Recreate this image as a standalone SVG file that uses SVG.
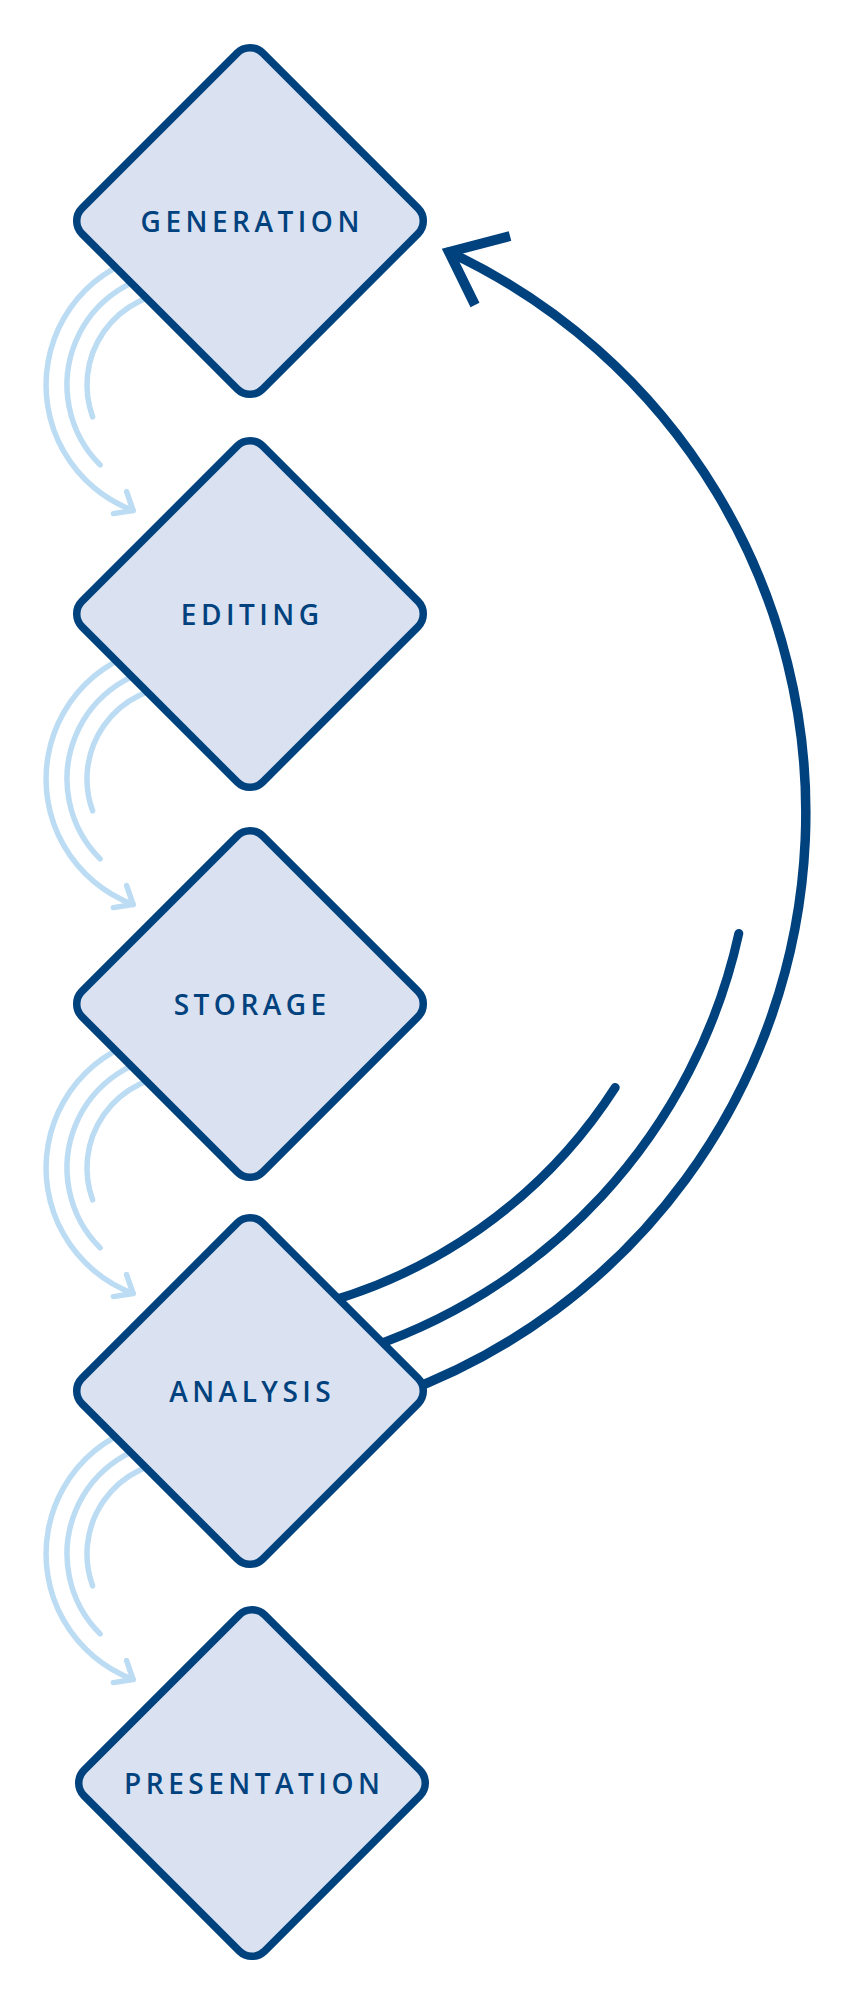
<svg xmlns="http://www.w3.org/2000/svg" width="857" height="2000" viewBox="0 0 857 2000">
<style>
.dia{fill:#dae1f0;stroke:#00427e;stroke-width:7.5}
.lbl{font-family:"Open Sans","Noto Sans","Liberation Sans",sans-serif;font-weight:600;font-size:28px;letter-spacing:4.5px;fill:#00427e;text-anchor:middle}
.lb{fill:none;stroke:#bcdcf4;stroke-width:5.5;stroke-linecap:round;stroke-linejoin:round}
.big{fill:none;stroke:#00427e;stroke-width:9;stroke-linecap:round}
.head{fill:none;stroke:#00427e;stroke-width:10;stroke-linejoin:miter;stroke-miterlimit:10;stroke-linecap:butt}
</style>
<defs>
<rect id="d" x="-127.8" y="-127.8" width="255.6" height="255.6" rx="18" transform="rotate(45)"/>
<g id="cyc">
<path class="lb" d="M180,-93 A93,93 0 0 0 92.6,31.8"/>
<path class="lb" d="M180,-113 A113,113 0 0 0 100.1,79.9"/>
<path class="lb" d="M180,-134 A134,134 0 0 0 133.1,125.5"/>
<path class="lb" d="M113.4,128.6 L133.1,125.5 L126.6,106.6"/>
</g>
</defs>
<rect width="857" height="2000" fill="#fff"/>
<g id="connectors">
<use href="#cyc" transform="translate(0,385)"/>
<use href="#cyc" transform="translate(0,779)"/>
<use href="#cyc" transform="translate(0,1168)"/>
<use href="#cyc" transform="translate(0,1554)"/>
<path class="big" d="M300.7,1308.9 A510,510 0 0 0 615.2,1087.5"/>
<path class="big" d="M351.5,1353.3 A566,566 0 0 0 738.8,933.5"/>
<path class="big" style="stroke-width:9.5" d="M398,1394.6 A619,619 0 0 0 449,252"/>
<path class="head" d="M510,236 L449,252 L475,305"/>
</g>
<g id="generation" transform="translate(250,221)">
<use href="#d" class="dia"/>
<text class="lbl" x="2.2" y="10.5">GENERATION</text>
</g>
<g id="editing" transform="translate(250,614)">
<use href="#d" class="dia"/>
<text class="lbl" x="2.2" y="10.5">EDITING</text>
</g>
<g id="storage" transform="translate(250,1004)">
<use href="#d" class="dia"/>
<text class="lbl" x="2.2" y="10.5">STORAGE</text>
</g>
<g id="analysis" transform="translate(250,1391)">
<use href="#d" class="dia"/>
<text class="lbl" x="2.2" y="10.5">ANALYSIS</text>
</g>
<g id="presentation" transform="translate(252,1783)">
<use href="#d" class="dia"/>
<text class="lbl" x="2.2" y="10.5">PRESENTATION</text>
</g>
</svg>
